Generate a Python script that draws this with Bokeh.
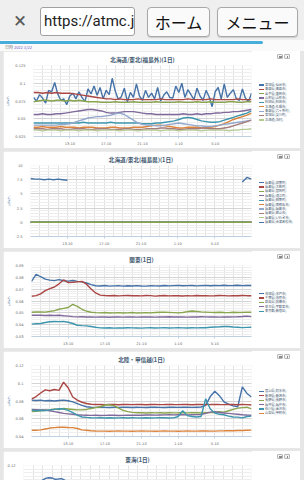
import numpy as np
from bokeh.plotting import figure
from bokeh.layouts import column, row
from bokeh.models import (Div, FixedTicker, SingleIntervalTicker,
                          NumeralTickFormatter, Range1d, Spacer)
from bokeh.embed import file_html
from bokeh.resources import INLINE

# ---------------- data ----------------
# time in minutes after 9:10
T30 = [0, 30, 60, 90, 120, 150, 180, 210, 240, 270, 300, 330, 360, 390, 420, 450, 480,
       510, 540, 570, 600, 630, 660, 690, 720, 750, 780, 810, 840, 870, 900, 930, 960,
       990, 1020, 1050, 1080, 1110, 1140, 1170, 1200, 1230, 1260, 1290, 1320, 1350,
       1380, 1410, 1440]
T20 = [0, 20, 40, 60, 80, 100, 120, 140, 160, 180, 200, 220, 240, 260, 280, 300, 320,
       340, 360, 380, 400, 420, 440, 460, 480, 500, 520, 540, 560, 580, 600, 620, 640,
       660, 680, 700, 720, 740, 760, 780, 800, 820, 840, 860, 880, 900, 920, 940, 960,
       980, 1000, 1020, 1040, 1060, 1080, 1100, 1120, 1140, 1160, 1180, 1200, 1220,
       1240, 1260, 1280, 1300, 1320, 1340, 1360, 1380, 1400, 1420, 1440]
T_ZERO = [0, 1440]
X_TICKS = [240, 480, 720, 960, 1200]
X_TICK_LABELS = ["13:10", "17:10", "21:10", "1:10", "5:10"]
X_MINOR = [0, 60, 120, 180, 240, 300, 360, 420, 480, 540, 600, 660, 720, 780, 840, 900,
           960, 1020, 1080, 1140, 1200, 1260, 1320, 1380, 1440]

# chart 1: 北海道/東北(福島外)
NAMES1 = ["宮城県(仙台市)", "青森県(青森市)", "岩手県(盛岡市)", "山形県(山形市)", "秋田県(秋田市)",
          "北海道(札幌市)", "青森県(六ヶ所村)", "宮城県(女川町)", "北海道(泊村)"]
blue1 = [0.080, 0.075, 0.084, 0.079, 0.072, 0.090, 0.088, 0.101, 0.085,
         0.076, 0.078, 0.070, 0.082, 0.086, 0.078, 0.088, 0.080, 0.074,
         0.092, 0.085, 0.096, 0.083, 0.094, 0.078, 0.090, 0.084, 0.107,
         0.089, 0.077, 0.081, 0.093, 0.074, 0.087, 0.080, 0.099, 0.082,
         0.076, 0.090, 0.080, 0.086, 0.078, 0.094, 0.075, 0.083, 0.088,
         0.080, 0.079, 0.096, 0.087, 0.100, 0.080, 0.091, 0.084, 0.077,
         0.093, 0.082, 0.076, 0.090, 0.081, 0.067, 0.088, 0.094, 0.078,
         0.099, 0.080, 0.086, 0.091, 0.078, 0.076, 0.092, 0.079, 0.074,
         0.086]
red1 = [0.087, 0.087, 0.086, 0.087, 0.086, 0.087, 0.086,
        0.086, 0.086, 0.085, 0.084, 0.083, 0.082, 0.081,
        0.080, 0.079, 0.078, 0.078, 0.077, 0.078, 0.077,
        0.077, 0.077, 0.078, 0.077, 0.077, 0.077, 0.077,
        0.078, 0.077, 0.077, 0.077, 0.077, 0.077, 0.078,
        0.077, 0.077, 0.077, 0.077, 0.078, 0.077, 0.077,
        0.077, 0.077, 0.077, 0.078, 0.077, 0.077, 0.077]
green1 = [0.074, 0.075, 0.076, 0.076, 0.075, 0.076, 0.076,
          0.075, 0.076, 0.075, 0.076, 0.075, 0.074, 0.074,
          0.074, 0.073, 0.073, 0.073, 0.074, 0.073, 0.073,
          0.073, 0.074, 0.073, 0.073, 0.073, 0.073, 0.074,
          0.073, 0.073, 0.073, 0.073, 0.074, 0.073, 0.073,
          0.073, 0.074, 0.073, 0.073, 0.074, 0.073, 0.073,
          0.073, 0.074, 0.074, 0.073, 0.073, 0.074, 0.074]
purple1 = [0.056, 0.056, 0.057, 0.056, 0.056, 0.057, 0.057,
           0.058, 0.059, 0.060, 0.061, 0.062, 0.063, 0.063,
           0.062, 0.061, 0.059, 0.058, 0.058, 0.059, 0.060,
           0.060, 0.060, 0.059, 0.058, 0.057, 0.057, 0.056,
           0.056, 0.056, 0.056, 0.056, 0.056, 0.057, 0.056,
           0.056, 0.057, 0.056, 0.057, 0.057, 0.058, 0.058,
           0.059, 0.059, 0.060, 0.060, 0.061, 0.062, 0.063]
teal1 = [0.044, 0.044, 0.044, 0.044, 0.044, 0.044, 0.044,
         0.044, 0.044, 0.044, 0.044, 0.045, 0.044, 0.044,
         0.044, 0.044, 0.044, 0.045, 0.044, 0.044, 0.044,
         0.044, 0.044, 0.044, 0.043, 0.043, 0.043, 0.044,
         0.044, 0.045, 0.046, 0.047, 0.049, 0.051, 0.052,
         0.051, 0.049, 0.047, 0.046, 0.045, 0.045, 0.046,
         0.048, 0.050, 0.052, 0.054, 0.056, 0.058, 0.061]
orange1 = [0.038, 0.038, 0.039, 0.038, 0.038, 0.038, 0.039,
           0.038, 0.038, 0.038, 0.037, 0.038, 0.038, 0.038,
           0.037, 0.037, 0.037, 0.038, 0.038, 0.037, 0.037,
           0.037, 0.038, 0.038, 0.038, 0.039, 0.040, 0.041,
           0.041, 0.040, 0.039, 0.038, 0.037, 0.037, 0.038,
           0.038, 0.038, 0.037, 0.037, 0.038, 0.039, 0.041,
           0.043, 0.046, 0.049, 0.051, 0.053, 0.055, 0.058]
lightblue1 = [0.041, 0.041, 0.041, 0.041, 0.041, 0.041, 0.042,
              0.042, 0.043, 0.045, 0.047, 0.049, 0.051, 0.052,
              0.053, 0.053, 0.054, 0.055, 0.057, 0.058, 0.056,
              0.052, 0.048, 0.044, 0.042, 0.041, 0.041, 0.040,
              0.040, 0.041, 0.042, 0.043, 0.044, 0.043, 0.042,
              0.041, 0.040, 0.040, 0.039, 0.039, 0.040, 0.041,
              0.042, 0.043, 0.044, 0.045, 0.046, 0.047, 0.048]
brown1 = [0.036, 0.036, 0.036, 0.035, 0.036, 0.036, 0.036,
          0.035, 0.035, 0.036, 0.036, 0.036, 0.035, 0.035,
          0.036, 0.036, 0.036, 0.035, 0.035, 0.035, 0.036,
          0.036, 0.035, 0.035, 0.035, 0.036, 0.036, 0.036,
          0.037, 0.037, 0.036, 0.036, 0.035, 0.035, 0.036,
          0.036, 0.036, 0.037, 0.037, 0.036, 0.036, 0.036,
          0.037, 0.038, 0.040, 0.042, 0.044, 0.046, 0.048]
lgreen1 = [0.034, 0.034, 0.033, 0.034, 0.034, 0.034, 0.033,
           0.034, 0.034, 0.034, 0.033, 0.034, 0.034, 0.034,
           0.033, 0.034, 0.034, 0.034, 0.034, 0.033, 0.034,
           0.034, 0.034, 0.033, 0.034, 0.034, 0.034, 0.034,
           0.033, 0.034, 0.034, 0.034, 0.033, 0.034, 0.034,
           0.034, 0.034, 0.033, 0.034, 0.034, 0.034, 0.034,
           0.034, 0.033, 0.034, 0.034, 0.035, 0.035, 0.036]

# chart 2: 北海道/東北(福島県)
NAMES2 = ["福島県(双葉町)", "福島県(大熊町)", "福島県(富岡町)", "福島県(浪江町)", "福島県(楢葉町)",
          "福島県(南相馬市)", "福島県(福島市)", "福島県(郡山市)", "福島県(いわき市)", "福島県(会津若松市)"]
blue2 = [7.7, 7.6, 7.6, 7.5, 7.6, 7.5, 7.6,
         7.5, 7.4, None, None, None, None, None,
         None, None, None, None, None, None, None,
         None, None, None, None, None, None, None,
         None, None, None, None, None, None, None,
         None, None, None, None, None, None, None,
         None, None, None, None, 7.1, 7.9, 7.6]
zero2 = [0.0, 0.0]

# chart 3: 関東
NAMES3 = ["茨城県(水戸市)", "千葉県(市原市)", "群馬県(前橋市)", "栃木県(宇都宮市)", "東京都(新宿区)"]
blue3 = [0.0765, 0.0826, 0.0805, 0.0785, 0.0776, 0.0772, 0.0781,
         0.0771, 0.0768, 0.0773, 0.0766, 0.0762, 0.0752, 0.0738,
         0.0729, 0.0727, 0.0731, 0.0726, 0.0728, 0.0730, 0.0726,
         0.0729, 0.0727, 0.0730, 0.0727, 0.0726, 0.0729, 0.0728,
         0.0727, 0.0731, 0.0728, 0.0730, 0.0732, 0.0729, 0.0730,
         0.0731, 0.0728, 0.0730, 0.0732, 0.0729, 0.0731, 0.0730,
         0.0733, 0.0730, 0.0731, 0.0733, 0.0730, 0.0732, 0.0731]
red3 = [0.0640, 0.0645, 0.0660, 0.0688, 0.0705, 0.0718, 0.0745,
        0.0778, 0.0755, 0.0758, 0.0762, 0.0766, 0.0742, 0.0702,
        0.0668, 0.0650, 0.0646, 0.0644, 0.0647, 0.0643, 0.0645,
        0.0646, 0.0644, 0.0645, 0.0643, 0.0646, 0.0645, 0.0641,
        0.0644, 0.0646, 0.0643, 0.0645, 0.0644, 0.0642, 0.0645,
        0.0643, 0.0646, 0.0644, 0.0645, 0.0643, 0.0644, 0.0646,
        0.0645, 0.0643, 0.0645, 0.0644, 0.0646, 0.0645, 0.0645]
green3 = [0.0505, 0.0507, 0.0508, 0.0506, 0.0512, 0.0518, 0.0530,
          0.0538, 0.0545, 0.0572, 0.0555, 0.0530, 0.0515, 0.0505,
          0.0502, 0.0500, 0.0503, 0.0499, 0.0500, 0.0502, 0.0499,
          0.0500, 0.0503, 0.0498, 0.0500, 0.0502, 0.0500, 0.0503,
          0.0505, 0.0506, 0.0504, 0.0502, 0.0500, 0.0503, 0.0510,
          0.0515, 0.0512, 0.0508, 0.0506, 0.0504, 0.0503, 0.0505,
          0.0503, 0.0502, 0.0505, 0.0503, 0.0504, 0.0506, 0.0505]
purple3 = [0.0480, 0.0479, 0.0480, 0.0478, 0.0480, 0.0477, 0.0479,
           0.0475, 0.0472, 0.0468, 0.0466, 0.0467, 0.0465, 0.0466,
           0.0464, 0.0466, 0.0465, 0.0463, 0.0465, 0.0466, 0.0464,
           0.0465, 0.0466, 0.0464, 0.0465, 0.0466, 0.0465, 0.0464,
           0.0466, 0.0465, 0.0467, 0.0465, 0.0466, 0.0465, 0.0464,
           0.0466, 0.0465, 0.0467, 0.0466, 0.0465, 0.0466, 0.0464,
           0.0466, 0.0465, 0.0466, 0.0467, 0.0469, 0.0472, 0.0468]
teal3 = [0.0405, 0.0408, 0.0410, 0.0418, 0.0425, 0.0427, 0.0426,
         0.0428, 0.0420, 0.0410, 0.0395, 0.0392, 0.0390, 0.0385,
         0.0378, 0.0373, 0.0372, 0.0374, 0.0371, 0.0373, 0.0372,
         0.0374, 0.0373, 0.0372, 0.0371, 0.0373, 0.0374, 0.0372,
         0.0373, 0.0375, 0.0372, 0.0373, 0.0374, 0.0373, 0.0372,
         0.0374, 0.0373, 0.0375, 0.0374, 0.0378, 0.0380, 0.0382,
         0.0385, 0.0384, 0.0380, 0.0378, 0.0375, 0.0377, 0.0378]

# chart 4: 北陸・甲信越
NAMES4 = ["富山県(射水市)", "新潟県(新潟市)", "長野県(長野市)", "福井県(福井市)", "石川県(金沢市)", "山梨県(甲府市)"]
blue4 = [0.0810, 0.0805, 0.0810, 0.0802, 0.0806, 0.0800, 0.0805,
         0.0810, 0.0803, 0.0790, 0.0770, 0.0750, 0.0735, 0.0730,
         0.0728, 0.0732, 0.0729, 0.0727, 0.0730, 0.0728, 0.0731,
         0.0729, 0.0727, 0.0730, 0.0728, 0.0726, 0.0729, 0.0730,
         0.0728, 0.0727, 0.0729, 0.0731, 0.0728, 0.0730, 0.0729,
         0.0728, 0.0730, 0.0732, 0.0750, 0.0850, 0.0910, 0.0860,
         0.0790, 0.0765, 0.0745, 0.0735, 0.0960, 0.0885, 0.0845]
red4 = [0.0820, 0.0850, 0.0890, 0.0925, 0.0915, 0.0930, 0.0920,
        0.1012, 0.0950, 0.0845, 0.0810, 0.0786, 0.0772, 0.0763,
        0.0760, 0.0762, 0.0759, 0.0761, 0.0760, 0.0758, 0.0761,
        0.0760, 0.0759, 0.0761, 0.0760, 0.0758, 0.0760, 0.0761,
        0.0759, 0.0760, 0.0762, 0.0760, 0.0759, 0.0761, 0.0760,
        0.0758, 0.0760, 0.0761, 0.0759, 0.0760, 0.0762, 0.0760,
        0.0759, 0.0761, 0.0760, 0.0758, 0.0760, 0.0759, 0.0755]
green4 = [0.0680, 0.0685, 0.0690, 0.0695, 0.0700, 0.0710, 0.0705,
          0.0715, 0.0710, 0.0705, 0.0700, 0.0700, 0.0705, 0.0715,
          0.0725, 0.0735, 0.0755, 0.0757, 0.0748, 0.0720, 0.0695,
          0.0680, 0.0672, 0.0668, 0.0667, 0.0665, 0.0668, 0.0666,
          0.0667, 0.0665, 0.0668, 0.0666, 0.0667, 0.0669, 0.0666,
          0.0668, 0.0667, 0.0665, 0.0667, 0.0669, 0.0670, 0.0680,
          0.0675, 0.0690, 0.0705, 0.0720, 0.0725, 0.0730, 0.0712]
purple4 = [0.0705, 0.0703, 0.0700, 0.0698, 0.0690, 0.0680, 0.0670,
           0.0660, 0.0655, 0.0650, 0.0645, 0.0642, 0.0640, 0.0638,
           0.0639, 0.0637, 0.0638, 0.0640, 0.0639, 0.0637, 0.0638,
           0.0640, 0.0641, 0.0639, 0.0640, 0.0642, 0.0643, 0.0641,
           0.0643, 0.0644, 0.0645, 0.0644, 0.0646, 0.0645, 0.0644,
           0.0645, 0.0646, 0.0648, 0.0660, 0.0675, 0.0680, 0.0670,
           0.0665, 0.0660, 0.0655, 0.0650, 0.0645, 0.0642, 0.0640]
teal4 = [0.0698, 0.0690, 0.0695, 0.0692, 0.0700, 0.0705, 0.0712,
         0.0710, 0.0695, 0.0670, 0.0640, 0.0620, 0.0615, 0.0612,
         0.0610, 0.0612, 0.0609, 0.0611, 0.0608, 0.0610, 0.0612,
         0.0609, 0.0611, 0.0610, 0.0608, 0.0611, 0.0609, 0.0610,
         0.0612, 0.0611, 0.0609, 0.0610, 0.0625, 0.0690, 0.0635,
         0.0625, 0.0620, 0.0625, 0.0825, 0.0710, 0.0665, 0.0650,
         0.0645, 0.0630, 0.0620, 0.0618, 0.0610, 0.0625, 0.0630]
orange4 = [0.0470, 0.0470, 0.0475, 0.0485, 0.0495, 0.0500, 0.0505,
           0.0505, 0.0502, 0.0500, 0.0490, 0.0475, 0.0470, 0.0465,
           0.0462, 0.0460, 0.0461, 0.0459, 0.0460, 0.0462, 0.0460,
           0.0461, 0.0459, 0.0460, 0.0462, 0.0460, 0.0461, 0.0459,
           0.0460, 0.0462, 0.0461, 0.0460, 0.0459, 0.0461, 0.0462,
           0.0460, 0.0461, 0.0463, 0.0462, 0.0460, 0.0461, 0.0463,
           0.0464, 0.0466, 0.0465, 0.0467, 0.0468, 0.0470, 0.0472]

# chart 5: 東海 (only the top of it is on screen)
NAMES5 = ["愛知県(名古屋市)"]
blue5 = [0.0960, 0.0970, 0.0980, 0.0990, 0.1000, 0.1015, 0.1035, 0.1055, 0.1063,
         0.1060, 0.1045, 0.1048, 0.1053, 0.1035, 0.1012, 0.0990, 0.0970, 0.0955,
         0.0950, 0.0948, 0.0945, 0.0947, 0.0944, 0.0946, 0.0945, 0.0943, 0.0946,
         0.0944, 0.0945, 0.0947, 0.0945, 0.0944, 0.0946, 0.0945, 0.0943, 0.0945,
         0.0946, 0.0944, 0.0945, 0.0947, 0.0945, 0.0944, 0.0946, 0.0945, 0.0944,
         0.0946, 0.0945, 0.0943, 0.0945, 0.0946, 0.0944, 0.0945, 0.0947, 0.0945,
         0.0944, 0.0946, 0.0945, 0.0944, 0.0946, 0.0945, 0.0947, 0.0945, 0.0944,
         0.0946, 0.0948, 0.0950, 0.0949, 0.0947, 0.0946, 0.0948, 0.0947, 0.0946,
         0.0947]

# ---------------- style ----------------
PALETTE = ["#4572A7", "#AA4643", "#89A54E", "#80699B", "#3D96AE",
           "#DB843D", "#92A8CD", "#A47D7C", "#B5CA92"]
JP = "Noto Sans CJK JP"
NUM = "DejaVu Sans"
FIG_W = 249
SIDE_W = 48


def make_chart(title, names, times, values, y_start, y_end, y_step, y_fmt, height,
               draw_order=None, border_top=14, show_x=True):
    p = figure(width=FIG_W, height=height, title=title,
               x_range=Range1d(0, 1440), y_range=Range1d(y_start, y_end),
               output_backend="svg", toolbar_location=None, tools="",
               min_border_left=20, min_border_right=1, min_border_top=border_top,
               min_border_bottom=8 if show_x else 0,
               background_fill_color="white", border_fill_color="white")
    p.outline_line_color = None
    t = p.title
    t.align = "center"
    t.text_font = JP
    t.text_font_size = "5.6px"
    t.text_color = "#3E576F"
    t.text_font_style = "bold"
    t.standoff = 4

    xa = p.xaxis[0]
    xa.ticker = FixedTicker(ticks=X_TICKS, minor_ticks=X_MINOR)
    xa.major_label_overrides = {k: v for k, v in zip(X_TICKS, X_TICK_LABELS)}
    xa.axis_line_color = "#C0D0E0"
    xa.major_tick_line_color = "#C0D0E0"
    xa.major_tick_out = 2
    xa.major_tick_in = 0
    xa.minor_tick_line_color = None
    xa.major_label_text_font = NUM
    xa.major_label_text_font_size = "3.6px"
    xa.major_label_text_color = "#666666"
    xa.major_label_standoff = 1
    if not show_x:
        xa.visible = False

    ya = p.yaxis[0]
    ya.ticker = SingleIntervalTicker(interval=y_step, num_minor_ticks=5)
    ya.formatter = NumeralTickFormatter(format=y_fmt)
    if show_x:
        ya.axis_label = "µSv/h"
    ya.axis_label_text_font = NUM
    ya.axis_label_text_font_size = "3.2px"
    ya.axis_label_text_color = "#4d759e"
    ya.axis_label_text_font_style = "normal"
    ya.axis_label_standoff = 2
    ya.axis_line_color = None
    ya.major_tick_line_color = None
    ya.minor_tick_line_color = None
    ya.major_label_text_font = NUM
    ya.major_label_text_font_size = "3.6px"
    ya.major_label_text_color = "#666666"
    ya.major_label_standoff = 2

    p.xgrid.grid_line_color = "#e2e2e2"
    p.xgrid.minor_grid_line_color = "#e2e2e2"
    p.ygrid.grid_line_color = "#d4d4d4"
    p.ygrid.minor_grid_line_color = "#eeeeee"

    order = draw_order if draw_order is not None else list(range(len(names)))
    for i in order:
        xs = np.array(times[i], dtype=float)
        ys = np.array([np.nan if v is None else v for v in values[i]], dtype=float)
        assert len(xs) == len(ys), (title, i, len(xs), len(ys))
        p.line(xs, ys, line_color=PALETTE[i % 9], line_width=1.4)
    return p


BUTTONS_HTML = (
    '<div style="position:absolute;left:25px;top:3px;white-space:nowrap;font-size:0;">'
    '<span style="display:inline-block;width:6px;height:5px;box-sizing:border-box;border:0.6px solid #b8b8b8;'
    'border-radius:1px;background:#f2f2f2;margin-right:1px;position:relative;">'
    '<span style="position:absolute;left:1.4px;top:1.3px;width:2.2px;height:1.6px;background:#8a8a8a;"></span></span>'
    '<span style="display:inline-block;width:6px;height:5px;box-sizing:border-box;border:0.6px solid #b8b8b8;'
    'border-radius:1px;background:#f2f2f2;position:relative;">'
    '<span style="position:absolute;left:1.6px;top:1.2px;width:1.8px;height:2px;background:#8a8a8a;"></span></span>'
    '</div>')


def side_div(names, height, top=14, frame_h=75, show_legend=True):
    rows = ""
    if show_legend:
        for i, n in enumerate(names):
            c = PALETTE[i % 9]
            rows += ('<div style="height:4.4px;line-height:4.4px;white-space:nowrap;">'
                     '<span style="display:inline-block;width:4.5px;height:1.3px;'
                     f'background:{c};vertical-align:middle;margin-right:1.5px;"></span>{n}</div>')
    html = (f'<div style="position:relative;width:{SIDE_W}px;height:{height}px;background:#ffffff;'
            f"overflow:hidden;font-family:'Noto Sans CJK JP',sans-serif;font-size:3.2px;color:#3E576F;\">"
            + BUTTONS_HTML +
            f'<div style="position:absolute;left:7px;top:{top}px;height:{frame_h}px;display:flex;'
            f'flex-direction:column;justify-content:center;">{rows}</div></div>')
    return Div(text=html, width=SIDE_W, height=height, margin=(0, 0, 0, 0))


def panel(p, names, show_legend=True):
    return row(Spacer(width=3, height=p.height), p,
               side_div(names, p.height, show_legend=show_legend),
               Spacer(width=4, height=p.height), spacing=0)


p1 = make_chart("北海道/東北(福島外)(1日)", NAMES1,
                [T20, T30, T30, T30, T30, T30, T30, T30, T30],
                [blue1, red1, green1, purple1, teal1, orange1, lightblue1, brown1, lgreen1],
                0.025, 0.125, 0.025, "0.[000]", 97)
p2 = make_chart("北海道/東北(福島県)(1日)", NAMES2,
                [T30] + [T_ZERO] * 9,
                [blue2] + [zero2] * 9,
                -2.5, 10, 2.5, "0.[0]", 97,
                draw_order=[0, 1, 3, 4, 5, 6, 7, 8, 9, 2])
p3 = make_chart("関東(1日)", NAMES3, [T30] * 5,
                [blue3, red3, green3, purple3, teal3],
                0.03, 0.09, 0.01, "0.[00]", 97)
p4 = make_chart("北陸・甲信越(1日)", NAMES4, [T30] * 6,
                [blue4, red4, green4, purple4, teal4, orange4],
                0.04, 0.12, 0.02, "0.[00]", 97)
p5 = make_chart("東海(1日)", NAMES5, [T20], [blue5],
                0.12 - 16 / 950.0, 0.12, 0.02, "0.[00]", 29,
                border_top=13, show_x=False)

HEADER_HTML = """
<div style="position:relative;width:304px;height:51px;background:#fafafa;overflow:hidden;font-family:Roboto,'Noto Sans CJK JP',sans-serif;">
  <div style="position:absolute;left:0;top:0;width:304px;height:40px;background:#efefef;"></div>
  <div style="position:absolute;left:10px;top:7px;width:20px;height:28px;font-size:22px;line-height:28px;color:#5a5a5a;text-align:center;">×</div>
  <div style="position:absolute;left:40px;top:7px;width:95px;height:29px;box-sizing:border-box;border:1px solid #a0a0a0;border-radius:3px;background:#ffffff;font-size:15px;line-height:27px;color:#222;padding-left:3px;white-space:nowrap;overflow:hidden;">https://atmc.j</div>
  <div style="position:absolute;left:147px;top:7px;width:63px;height:30px;box-sizing:border-box;border:1px solid #a8a8a8;border-radius:4px;background:#fafafa;box-shadow:0 1px 1px rgba(0,0,0,0.15);font-size:16px;line-height:28px;color:#111;text-align:center;font-family:'Noto Sans CJK JP',sans-serif;">ホーム</div>
  <div style="position:absolute;left:217px;top:7px;width:81px;height:30px;box-sizing:border-box;border:1px solid #a8a8a8;border-radius:4px;background:#fafafa;box-shadow:0 1px 1px rgba(0,0,0,0.15);font-size:16px;line-height:28px;color:#111;text-align:center;font-family:'Noto Sans CJK JP',sans-serif;">メニュー</div>
  <div style="position:absolute;left:0;top:41px;width:263px;height:3px;background:#47aedb;border-radius:0 2px 2px 0;"></div>
  <div style="position:absolute;left:5px;top:45px;font-size:4px;line-height:5px;color:#777;font-family:'Noto Sans CJK JP',sans-serif;white-space:nowrap;">日時 <span style="color:#7560c8;">2022 3/22</span></div>
</div>
"""
header = Div(text=HEADER_HTML, width=304, height=51, margin=(0, 0, 0, 0))

layout = column(header, panel(p1, NAMES1), Spacer(width=304, height=3), panel(p2, NAMES2),
                Spacer(width=304, height=3), panel(p3, NAMES3), Spacer(width=304, height=3),
                panel(p4, NAMES4), Spacer(width=304, height=3),
                panel(p5, NAMES5, show_legend=False),
                spacing=0, styles={"background-color": "#e6e6e6"})

open("out.html", "w").write(file_html(layout, INLINE))
